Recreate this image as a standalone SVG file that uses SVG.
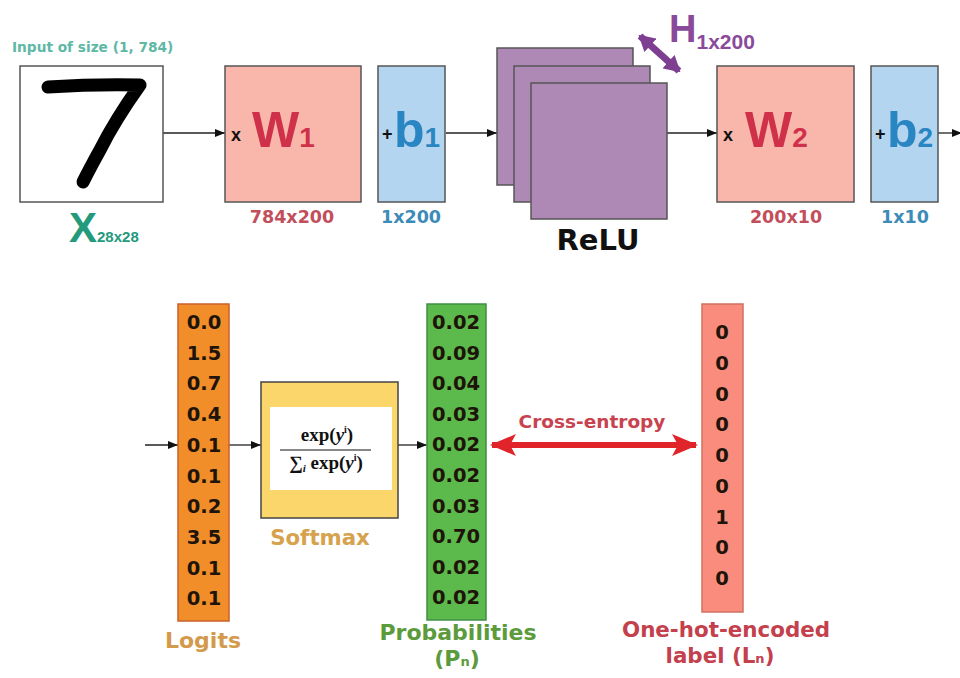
<svg xmlns="http://www.w3.org/2000/svg" width="960" height="678" viewBox="0 0 960 678">
<defs>
<style>
.lbl{font-family:"DejaVu Sans","Liberation Sans",sans-serif;font-weight:bold;}
.big{font-family:"Liberation Sans","Arial",sans-serif;font-weight:bold;}
.val{font-family:"DejaVu Sans","Liberation Sans",sans-serif;font-weight:bold;font-size:19.5px;fill:#1e140a;text-anchor:middle;}
.box{stroke:#555;stroke-width:1.5;}
.conn{stroke:#222;stroke-width:1.3;fill:none;marker-end:url(#ah);}
.mth{font-family:"Liberation Serif","DejaVu Serif",serif;font-weight:bold;font-size:19px;fill:#111;}
.op{font-family:"Liberation Sans","Arial",sans-serif;font-weight:bold;font-size:18px;fill:#111;}
</style>
<marker id="ah" viewBox="0 0 10 8" refX="10" refY="4" markerWidth="10" markerHeight="8" markerUnits="userSpaceOnUse" orient="auto">
<path d="M0,0 L10,4 L0,8 z" fill="#111"/>
</marker>
<marker id="pah" viewBox="0 0 16 18" refX="14" refY="9" markerWidth="16" markerHeight="18" markerUnits="userSpaceOnUse" orient="auto-start-reverse">
<path d="M0,0 L16,9 L0,18 z" fill="#7e3f92"/>
</marker>
<marker id="rah" viewBox="0 0 26 22" refX="24" refY="11" markerWidth="26" markerHeight="22" markerUnits="userSpaceOnUse" orient="auto-start-reverse">
<path d="M0,0 L26,11 L0,22 L6,11 z" fill="#e0242a"/>
</marker>
</defs>
<rect width="960" height="678" fill="#ffffff"/>

<g id="connectors">
<line class="conn" x1="163" y1="133" x2="225" y2="133"/>
<line class="conn" x1="446" y1="133" x2="497" y2="133"/>
<line class="conn" x1="667" y1="133" x2="717" y2="133"/>
<line class="conn" x1="938" y1="133" x2="962" y2="133"/>
<line class="conn" x1="145" y1="445" x2="178" y2="445"/>
<line class="conn" x1="229" y1="445" x2="261" y2="445"/>
<line class="conn" x1="398" y1="445" x2="427" y2="445"/>
<line x1="640" y1="36" x2="679" y2="71" stroke="#7e3f92" stroke-width="7" marker-start="url(#pah)" marker-end="url(#pah)"/>
<line x1="492" y1="445" x2="696" y2="445" stroke="#e0242a" stroke-width="6" marker-start="url(#rah)" marker-end="url(#rah)"/>
<text class="lbl" x="592" y="428" font-size="18.5" fill="#c8434f" text-anchor="middle">Cross-entropy</text>
</g>

<g id="input">
<text class="lbl" x="12" y="52" font-size="13.7" fill="#5db8a6">Input of size (1, 784)</text>
<rect class="box" x="20" y="66" width="143" height="136" fill="#ffffff"/>
<path d="M48,87 Q95,84 140,85 Q115,120 100,150 Q90,168 83,182" fill="none" stroke="#000" stroke-width="13" stroke-linecap="round" stroke-linejoin="round"/>
<text class="big" x="69" y="242" font-size="42" fill="#239a7c">X<tspan font-size="15">28x28</tspan></text>
</g>

<g id="w1">
<rect class="box" x="225" y="66" width="136" height="136" fill="#f9b7ac"/>
<text class="op" x="231" y="141">x</text>
<text class="big" x="252" y="147" font-size="50" fill="#d0314a">W<tspan font-size="28">1</tspan></text>
<text class="lbl" x="292" y="223" font-size="17.5" fill="#c24e5c" text-anchor="middle">784x200</text>
</g>

<g id="b1">
<rect class="box" x="378" y="66" width="67" height="136" fill="#b4d5ef"/>
<text class="op" x="382" y="140" font-size="15">+</text>
<text class="big" x="394" y="147" font-size="50" fill="#2a86c2">b<tspan font-size="28">1</tspan></text>
<text class="lbl" x="411" y="223" font-size="17.5" fill="#3d8bb8" text-anchor="middle">1x200</text>
</g>

<g id="relu">
<rect class="box" x="497" y="48" width="136" height="137" fill="#ae89b6"/>
<rect class="box" x="514" y="66" width="136" height="136" fill="#ae89b6"/>
<rect class="box" x="531" y="83" width="136" height="136" fill="#ae89b6"/>
<text class="lbl" x="598" y="250" font-size="29" fill="#111" text-anchor="middle">ReLU</text>
<text class="big" x="669" y="42" font-size="38" fill="#8a4a9c">H<tspan font-size="21" dy="7">1x200</tspan></text>
</g>

<g id="w2">
<rect class="box" x="717" y="66" width="137" height="136" fill="#f9b7ac"/>
<text class="op" x="723" y="141">x</text>
<text class="big" x="745" y="147" font-size="50" fill="#d0314a">W<tspan font-size="28">2</tspan></text>
<text class="lbl" x="786" y="223" font-size="17.5" fill="#c24e5c" text-anchor="middle">200x10</text>
</g>

<g id="b2">
<rect class="box" x="871" y="66" width="67" height="136" fill="#b4d5ef"/>
<text class="op" x="875" y="140" font-size="15">+</text>
<text class="big" x="887" y="147" font-size="50" fill="#2a86c2">b<tspan font-size="28">2</tspan></text>
<text class="lbl" x="905" y="223" font-size="17.5" fill="#3d8bb8" text-anchor="middle">1x10</text>
</g>

<g id="logits">
<rect x="178" y="304" width="51" height="317" fill="#f18e2a" stroke="#c8612a" stroke-width="1.5"/>
<text class="val" x="204" y="329">0.0</text>
<text class="val" x="204" y="359.7">1.5</text>
<text class="val" x="204" y="390.4">0.7</text>
<text class="val" x="204" y="421.1">0.4</text>
<text class="val" x="204" y="451.8">0.1</text>
<text class="val" x="204" y="482.5">0.1</text>
<text class="val" x="204" y="513.2">0.2</text>
<text class="val" x="204" y="543.9">3.5</text>
<text class="val" x="204" y="574.6">0.1</text>
<text class="val" x="204" y="605.3">0.1</text>
<text class="lbl" x="203" y="648" font-size="22" fill="#d39a4c" text-anchor="middle">Logits</text>
</g>

<g id="softmax">
<rect x="261" y="382" width="137" height="136" fill="#fbd76b" stroke="#444" stroke-width="1.5"/>
<rect x="270" y="407" width="122" height="83" fill="#ffffff"/>
<text class="mth" x="327" y="441" text-anchor="middle">exp(<tspan font-style="italic">y</tspan><tspan font-size="10" dy="-8">i</tspan><tspan dy="8">)</tspan></text>
<line x1="280" y1="450" x2="371" y2="450" stroke="#111" stroke-width="1.2"/>
<text class="mth" x="326" y="469" text-anchor="middle">∑<tspan font-size="11" font-style="italic" dy="3">i</tspan><tspan dy="-3"> exp(</tspan><tspan font-style="italic">y</tspan><tspan font-size="10" dy="-8">i</tspan><tspan dy="8">)</tspan></text>
<text class="lbl" x="320" y="545" font-size="21.3" fill="#d6a24e" text-anchor="middle">Softmax</text>
</g>

<g id="probabilities">
<rect x="427" y="304" width="59" height="316" fill="#5cb94b" stroke="#3f8f44" stroke-width="1.5"/>
<text class="val" x="456" y="329">0.02</text>
<text class="val" x="456" y="359.6">0.09</text>
<text class="val" x="456" y="390.2">0.04</text>
<text class="val" x="456" y="420.8">0.03</text>
<text class="val" x="456" y="451.4">0.02</text>
<text class="val" x="456" y="482">0.02</text>
<text class="val" x="456" y="512.6">0.03</text>
<text class="val" x="456" y="543.2">0.70</text>
<text class="val" x="456" y="573.8">0.02</text>
<text class="val" x="456" y="604.4">0.02</text>
<text class="lbl" x="458" y="640" font-size="22" fill="#5c9b3c" text-anchor="middle">Probabilities</text>
<text class="lbl" x="457" y="666" font-size="22" fill="#5c9b3c" text-anchor="middle">(P<tspan font-size="13">n</tspan>)</text>
</g>

<g id="onehot">
<rect x="702" y="304" width="41" height="308" fill="#f98c7c" stroke="#d0705f" stroke-width="1.5"/>
<text class="val" x="722" y="339">0</text>
<text class="val" x="722" y="369.75">0</text>
<text class="val" x="722" y="400.5">0</text>
<text class="val" x="722" y="431.25">0</text>
<text class="val" x="722" y="462">0</text>
<text class="val" x="722" y="492.75">0</text>
<text class="val" x="722" y="523.5">1</text>
<text class="val" x="722" y="554.25">0</text>
<text class="val" x="722" y="585">0</text>
<text class="lbl" x="726" y="637" font-size="21.4" fill="#c3404c" text-anchor="middle">One-hot-encoded</text>
<text class="lbl" x="720" y="663" font-size="21.4" fill="#c3404c" text-anchor="middle">label (L<tspan font-size="13">n</tspan>)</text>
</g>
</svg>
